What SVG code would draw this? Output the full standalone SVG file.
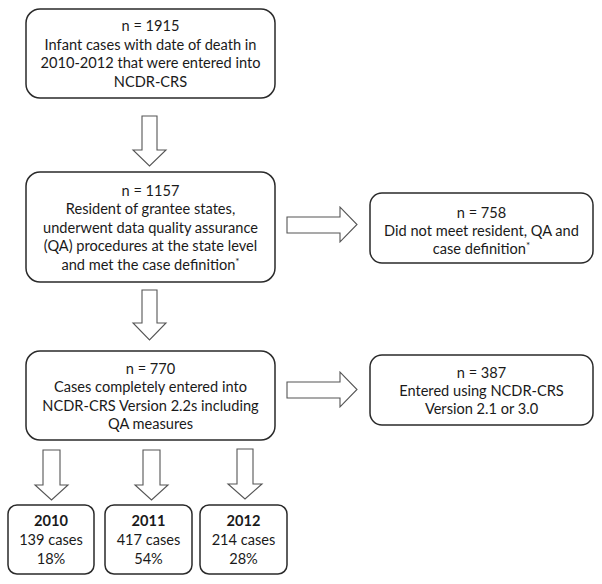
<svg xmlns="http://www.w3.org/2000/svg" width="602" height="584" viewBox="0 0 602 584">
<style>
.box{fill:#fff;stroke:#2a2a2a;stroke-width:1.5}
.arr{fill:#fff;stroke:#555;stroke-width:1.1;stroke-linejoin:miter}
text{font-family:Lato,"Liberation Sans",sans-serif;font-size:14.6px;fill:#1a1a1a;text-anchor:middle;dominant-baseline:central}
.b{font-weight:bold}
.sup{font-size:10px;baseline-shift:35%}
</style>
<rect width="602" height="584" fill="#fff"/>
<g id="connectors">
<polygon class="arr" points="142,116 157,116 157,150 166,150 149.5,166 133,150 142,150"/>
<polygon class="arr" points="142,290 157,290 157,323 166,323 149.5,340 133,323 142,323"/>
<polygon class="arr" points="287,217 340,217 340,207 357,224.5 340,242 340,233 287,233"/>
<polygon class="arr" points="287,382 340,382 340,372 357,389.5 340,407 340,398 287,398"/>
<polygon class="arr" points="43,450 60,450 60,485 68,485 51.5,500 35,485 43,485"/>
<polygon class="arr" points="143,450 160,450 160,485 168,485 151.5,500 135,485 143,485"/>
<polygon class="arr" points="237,449 253,449 253,484 262,484 245,499 228,484 237,484"/>
</g>
<g id="n1915">
<rect class="box" x="26" y="9" width="249" height="89" rx="14"/>
<text x="150.5" y="25">n = 1915</text>
<text x="150.5" y="44">Infant cases with date of death in</text>
<text x="150.5" y="62.5">2010-2012 that were entered into</text>
<text x="150.5" y="81">NCDR-CRS</text>
</g>
<g id="n1157">
<rect class="box" x="26" y="172" width="249" height="110" rx="14"/>
<text x="150.5" y="190">n = 1157</text>
<text x="150.5" y="208.5">Resident of grantee states,</text>
<text x="150.5" y="227">underwent data quality assurance</text>
<text x="150.5" y="245.5">(QA) procedures at the state level</text>
<text x="150.5" y="264">and met the case definition<tspan class="sup">*</tspan></text>
</g>
<g id="n758">
<rect class="box" x="370" y="193" width="223" height="70" rx="12"/>
<text x="481.5" y="212">n = 758</text>
<text x="481.5" y="230">Did not meet resident, QA and</text>
<text x="481.5" y="248">case definition<tspan class="sup">*</tspan></text>
</g>
<g id="n770">
<rect class="box" x="26" y="351" width="249" height="89" rx="14"/>
<text x="150.5" y="368">n = 770</text>
<text x="150.5" y="386.5">Cases completely entered into</text>
<text x="150.5" y="405">NCDR-CRS Version 2.2s including</text>
<text x="150.5" y="423.5">QA measures</text>
</g>
<g id="n387">
<rect class="box" x="370" y="355" width="223" height="70" rx="12"/>
<text x="481.5" y="372">n = 387</text>
<text x="481.5" y="390">Entered using NCDR-CRS</text>
<text x="481.5" y="408">Version 2.1 or 3.0</text>
</g>
<g id="y2010">
<rect class="box" x="8" y="505" width="86" height="69" rx="9"/>
<text class="b" x="51" y="520">2010</text>
<text x="51" y="539">139 cases</text>
<text x="51" y="558">18%</text>
</g>
<g id="y2011">
<rect class="box" x="105" y="505" width="87" height="69" rx="9"/>
<text class="b" x="148.5" y="520">2011</text>
<text x="148.5" y="539">417 cases</text>
<text x="148.5" y="558">54%</text>
</g>
<g id="y2012">
<rect class="box" x="200" y="505" width="87" height="69" rx="9"/>
<text class="b" x="243.5" y="520">2012</text>
<text x="243.5" y="539">214 cases</text>
<text x="243.5" y="558">28%</text>
</g>
</svg>
